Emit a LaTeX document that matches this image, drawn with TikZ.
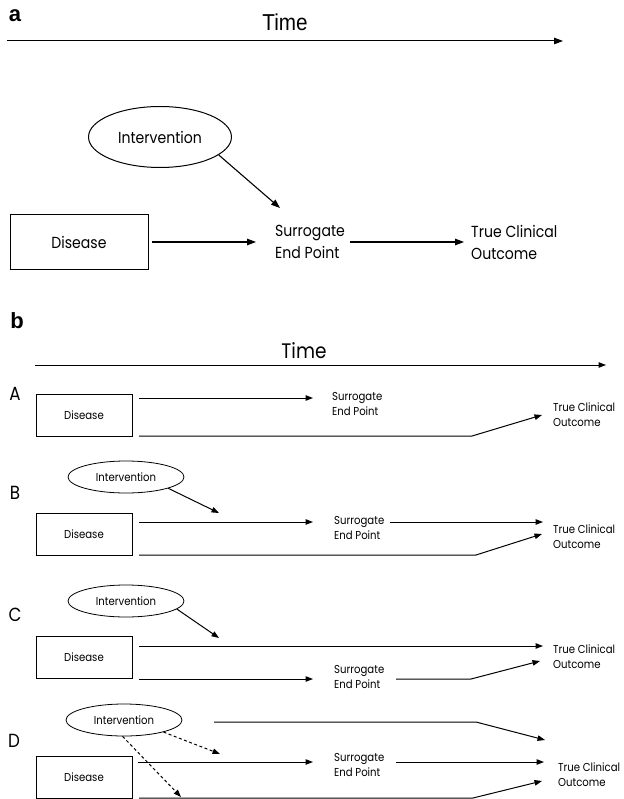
\documentclass[tikz,border=0pt]{standalone}
\usepackage{fontspec}
\setmainfont[FakeStretch=0.88]{Poppins}
\newfontfamily\helv{Liberation Sans}
\newfontfamily\helvn[FakeStretch=0.9]{Liberation Sans}
\usepackage{tikz}
\usetikzlibrary{arrows.meta,shapes.geometric,calc}

\begin{document}
\begin{tikzpicture}[x=1pt,y=-1pt,
    every node/.style={inner sep=0pt},
    bigtxt/.style   ={font=\fontsize{16}{22}\selectfont,align=left,anchor=west},
    smalltxt/.style ={font=\fontsize{11.5}{15}\selectfont,align=left,anchor=west},
    bigbox/.style   ={rectangle,draw,line width=1pt,minimum width=138pt,
                      minimum height=54pt,font=\fontsize{16}{20}\selectfont},
    smallbox/.style ={rectangle,draw,line width=0.8pt,minimum width=96pt,
                      minimum height=42pt,font=\fontsize{11.5}{14}\selectfont},
    bigovl/.style   ={ellipse,draw,line width=1pt,minimum width=143pt,
                      minimum height=61pt,font=\fontsize{16}{20}\selectfont},
    smallovl/.style ={ellipse,draw,line width=0.8pt,minimum width=116pt,
                      minimum height=32pt,font=\fontsize{11.5}{14}\selectfont},
    panel/.style    ={font=\helv\bfseries\fontsize{22}{24}\selectfont},
    rowlbl/.style   ={font=\fontsize{19}{21}\selectfont},
    arra/.style={-{Triangle[length=9pt,width=6.5pt]},line width=1.1pt},
    arrb/.style={-{Triangle[length=7.5pt,width=5.5pt]},line width=1pt},
    darr/.style={arrb,dash pattern=on 3pt off 2.5pt},
  ]
  \useasboundingbox (0,0) rectangle (623,799);

  % Panel a: time axis
  \node[panel] (la) at (15,16) {a};
  \node[font=\helvn\fontsize{23}{26}\selectfont] (timea) at (285,22) {Time};
  \coordinate (ta0) at (7,41);
  \coordinate (ta1) at (563,41);
  \draw[arra,line width=1pt] (ta0) -- (ta1);

  % Panel a: nodes
  \node[bigovl] (inta) at (160,137) {Intervention};
  \node[bigbox] (disa) at (79,242) {Disease};
  \node[bigtxt] (sura) at (275,242) {Surrogate\\End Point};
  \node[bigtxt] (tcoa) at (471,242) {True Clinical\\Outcome};
  \coordinate (hita) at (280,208);

  % Panel a: arrows
  \draw[arra,shorten <=3pt] (disa) -- ($(sura.west)+(-19,0)$);
  \draw[arra] ($(sura.east)+(5,0)$) -- ($(tcoa.west)+(-7,0)$);
  \draw[arra] (inta.-17) -- (hita);

  % Panel b: time axis
  \node[panel] (lb) at (17,321) {b};
  \node[font=\fontsize{21}{24}\selectfont] (timeb) at (304,351) {Time};
  \coordinate (tb0) at (35,365);
  \coordinate (tb1) at (606,365);
  \draw[arrb] (tb0) -- (tb1);

  % Row A
  \node[rowlbl] (ra) at (15,394) {A};
  \node[smallbox] (disA) at (84,415) {Disease};
  \node[smalltxt] (surA) at (332,404) {Surrogate\\End Point};
  \node[smalltxt] (tcoA) at (553,415) {True Clinical\\Outcome};
  \coordinate (A1) at (139,398);
  \coordinate (A1e) at (313,398);
  \coordinate (A2) at (139,436);
  \coordinate (A2k) at (472,436);
  \coordinate (A2e) at (542,415);
  \draw[arrb] (A1) -- (A1e);
  \draw[arrb] (A2) -- (A2k) -- (A2e);

  % Row B
  \node[smallovl] (intB) at (126,477) {Intervention};
  \node[rowlbl] (rb) at (15,493) {B};
  \node[smallbox] (disB) at (84,534) {Disease};
  \node[smalltxt] (surB) at (334,528) {Surrogate\\End Point};
  \node[smalltxt] (tcoB) at (553,537) {True Clinical\\Outcome};
  \coordinate (hitB) at (219,513);
  \coordinate (B1) at (139,522);
  \coordinate (B1e) at (313,522);
  \coordinate (B2) at (390,522);
  \coordinate (B2e) at (543,522);
  \coordinate (B3) at (139,555);
  \coordinate (B3k) at (476,555);
  \coordinate (B3e) at (542,534);
  \draw[arrb] (intB.-15) -- (hitB);
  \draw[arrb] (B1) -- (B1e);
  \draw[arrb] (B2) -- (B2e);
  \draw[arrb] (B3) -- (B3k) -- (B3e);

  % Row C
  \node[smallovl] (intC) at (126,601) {Intervention};
  \node[rowlbl] (rc) at (15,615) {C};
  \node[smallbox] (disC) at (84,657.5) {Disease};
  \node[smalltxt] (surC) at (334,677) {Surrogate\\End Point};
  \node[smalltxt] (tcoC) at (553,657) {True Clinical\\Outcome};
  \coordinate (hitC) at (219,638);
  \coordinate (C1) at (139,646);
  \coordinate (C1e) at (543,646);
  \coordinate (C2) at (139,679);
  \coordinate (C2e) at (313,679);
  \coordinate (C3) at (396,679);
  \coordinate (C3k) at (471,679);
  \coordinate (C3e) at (540,661);
  \draw[arrb] (intC.-9) -- (hitC);
  \draw[arrb] (C1) -- (C1e);
  \draw[arrb] (C2) -- (C2e);
  \draw[arrb] (C3) -- (C3k) -- (C3e);

  % Row D
  \node[smallovl] (intD) at (124,720) {Intervention};
  \node[rowlbl] (rd) at (14,741) {D};
  \node[smallbox] (disD) at (84,777.5) {Disease};
  \node[smalltxt] (surD) at (334,765) {Surrogate\\End Point};
  \node[smalltxt] (tcoD) at (558,775) {True Clinical\\Outcome};
  \coordinate (hitD1) at (220,754);
  \coordinate (hitD2) at (181,797);
  \coordinate (D0) at (214,722);
  \coordinate (D0k) at (476,722);
  \coordinate (D0e) at (545,740);
  \coordinate (D1) at (138,762);
  \coordinate (D1e) at (313,762);
  \coordinate (D2) at (396,762);
  \coordinate (D2e) at (544,762);
  \coordinate (D3) at (139,798);
  \coordinate (D3k) at (473,798);
  \coordinate (D3e) at (542,781);
  \draw[darr] (intD.-17) -- (hitD1);
  \draw[darr] (intD.-95) -- (hitD2);
  \draw[arrb] (D0) -- (D0k) -- (D0e);
  \draw[arrb] (D1) -- (D1e);
  \draw[arrb] (D2) -- (D2e);
  \draw[arrb] (D3) -- (D3k) -- (D3e);
\end{tikzpicture}
\end{document}
